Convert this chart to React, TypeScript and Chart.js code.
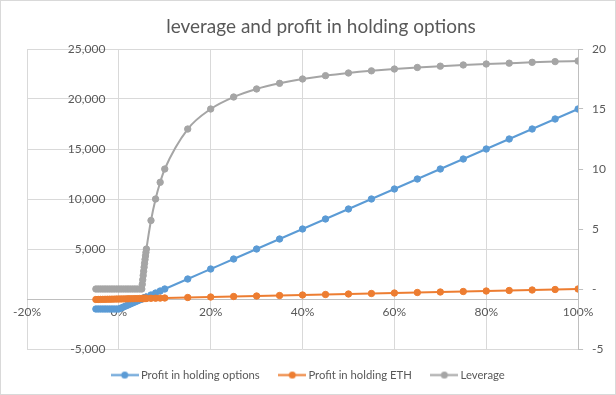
import React, { useEffect, useRef } from "react";
import { Chart, registerables } from "chart.js";

Chart.register(...registerables);

// x values in percent of ETH price change
const xPct = [
  -5, -4.5, -4, -3.5, -3, -2.5, -2, -1.5, -1, -0.5, 0, 0.5, 1, 1.5, 2, 2.5, 3, 3.5, 4, 4.5, 5,
  5.1, 5.2, 5.3, 5.4, 5.5, 5.6, 5.7, 5.8, 5.9, 6, 7, 8, 9, 10,
  15, 20, 25, 30, 35, 40, 45, 50, 55, 60, 65, 70, 75, 80, 85, 90, 95, 100,
];

const profitOptions = [
  -1000, -1000, -1000, -1000, -1000, -1000, -1000, -1000, -1000, -1000, -1000,
  -900, -800, -700, -600, -500, -400, -300, -200, -100, 0,
  20, 40, 60, 80, 100, 120, 140, 160, 180, 200, 400, 600, 800, 1000,
  2000, 3000, 4000, 5000, 6000, 7000, 8000, 9000, 10000, 11000, 12000, 13000, 14000, 15000, 16000, 17000, 18000, 19000,
];

const profitEth = [
  -50, -45, -40, -35, -30, -25, -20, -15, -10, -5, 0, 5, 10, 15, 20, 25, 30, 35, 40, 45, 50,
  51, 52, 53, 54, 55, 56, 57, 58, 59, 60, 70, 80, 90, 100,
  150, 200, 250, 300, 350, 400, 450, 500, 550, 600, 650, 700, 750, 800, 850, 900, 950, 1000,
];

const leverage = [
  0, 0, 0, 0, 0, 0, 0, 0, 0, 0, 0, 0, 0, 0, 0, 0, 0, 0, 0, 0, 0,
  0.39, 0.77, 1.13, 1.48, 1.82, 2.14, 2.46, 2.76, 3.05, 3.33, 5.71, 7.5, 8.89, 10,
  13.33, 15, 16, 16.67, 17.14, 17.5, 17.78, 18, 18.18, 18.33, 18.46, 18.57, 18.67, 18.75, 18.82, 18.89, 18.95, 19,
];

const seriesNames = ["Profit in holding options", "Profit in holding ETH", "Leverage"];
const seriesColors = ["#5B9BD5", "#ED7D31", "#A5A5A5"];
const chartTitle = "leverage and profit in holding options";

const FONT = "Lato, 'Open Sans', sans-serif";
const TEXT = "#595959";

const leftLabel = (v: number) => (v === 0 ? "-  " : v.toLocaleString("en-US"));

function legendMarker(color: string): HTMLCanvasElement {
  const c = document.createElement("canvas");
  c.width = 28;
  c.height = 9;
  const ctx = c.getContext("2d")!;
  ctx.strokeStyle = color;
  ctx.lineWidth = 2;
  ctx.beginPath();
  ctx.moveTo(0, 4.5);
  ctx.lineTo(28, 4.5);
  ctx.stroke();
  ctx.fillStyle = color;
  ctx.beginPath();
  ctx.arc(14, 4.5, 3.5, 0, Math.PI * 2);
  ctx.fill();
  return c;
}

const legendShift = {
  id: "legendShift",
  afterLayout(chart: any) {
    const lg = chart.legend;
    if (lg) {
      lg.top -= 1.6;
      lg.bottom -= 1.6;
      lg.left -= 11.5;
      lg.right -= 11.5;
    }
  },
};

// Left axis labels drawn next to the vertical axis that crosses at x = 0
const leftAxisLabels = {
  id: "leftAxisLabels",
  beforeDatasetsDraw(chart: any) {
    const ys = chart.scales.y;
    const xs = chart.scales.x;
    const ctx = chart.ctx;
    const ax = xs.getPixelForValue(0);
    ctx.save();
    ctx.font = `12px ${FONT}`;
    ctx.fillStyle = TEXT;
    ctx.textAlign = "right";
    ctx.textBaseline = "middle";
    for (const t of ys.ticks) {
      ctx.fillText(leftLabel(t.value), ax - 13.5, ys.getPixelForValue(t.value));
    }
    ctx.restore();
  },
};

export default function App() {
  const ref = useRef<HTMLCanvasElement | null>(null);

  useEffect(() => {
    if (!ref.current) return;
    const series = [profitOptions, profitEth, leverage];
    const datasets = series.map((vals, i) => ({
      label: seriesNames[i],
      data: xPct.map((x, j) => ({ x: x / 100, y: vals[j] })),
      borderColor: seriesColors[i],
      backgroundColor: seriesColors[i],
      pointBackgroundColor: seriesColors[i],
      pointBorderColor: seriesColors[i],
      pointRadius: 3.2,
      pointBorderWidth: 1,
      borderWidth: 2,
      tension: 0.3,
      cubicInterpolationMode: "monotone" as const,
      yAxisID: i === 2 ? "y1" : "y",
      order: 2 - i,
    }));
    const markers = seriesColors.map(legendMarker);

    const chart = new Chart(ref.current, {
      type: "line",
      data: { datasets },
      plugins: [legendShift, leftAxisLabels],
      options: {
        animation: false,
        responsive: false,
        maintainAspectRatio: false,
        layout: { padding: { left: 27, right: 1, top: 0, bottom: 2.7 } },
        scales: {
          x: {
            type: "linear",
            position: { y: 0 } as any,
            min: -0.2,
            max: 1,
            ticks: {
              stepSize: 0.2,
              color: TEXT,
              font: { family: FONT, size: 12 },
              padding: 6,
              maxRotation: 0,
              callback: (v: any) => Math.round(Number(v) * 100) + "%",
            },
            grid: { color: "#D9D9D9", drawTicks: false },
            border: { color: "#BFBFBF" },
          },
          y: {
            type: "linear",
            position: { x: 0 } as any,
            min: -5000,
            max: 25000,
            ticks: {
              stepSize: 5000,
              display: false,
            },
            grid: { color: "#D9D9D9", drawTicks: false },
            border: { color: "#D9D9D9" },
          },
          y1: {
            type: "linear",
            position: "right",
            min: -5,
            max: 20,
            ticks: {
              stepSize: 5,
              color: TEXT,
              font: { family: FONT, size: 12 },
              padding: 9,
              callback: (v: any) => (Number(v) === 0 ? "-" : String(v)),
            },
            grid: { drawOnChartArea: false, color: "#BFBFBF", tickLength: 5 },
            border: { color: "#BFBFBF" },
          },
        },
        plugins: {
          title: {
            display: true,
            text: chartTitle,
            color: TEXT,
            font: { family: FONT, size: 19, weight: "normal" },
            padding: { top: 15, bottom: 11.2 },
          },
          legend: {
            position: "bottom",
            labels: {
              color: TEXT,
              font: { family: FONT, size: 11.3 },
              usePointStyle: true,
              pointStyleWidth: 21,
              padding: 22,
              generateLabels: (ch: any) =>
                ch.data.datasets.map((ds: any, i: number) => ({
                  text: ds.label,
                  fillStyle: seriesColors[i],
                  strokeStyle: seriesColors[i],
                  fontColor: TEXT,
                  lineWidth: 0,
                  pointStyle: markers[i],
                  hidden: false,
                  datasetIndex: i,
                })),
            },
          },
          tooltip: { enabled: false },
        },
      },
    });
    return () => chart.destroy();
  }, []);

  return (
    <div style={{ position: "fixed", left: 0, top: 0, width: 616, height: 395, background: "#fff" }}>
      <canvas ref={ref} width={616} height={395} style={{ display: "block", width: 616, height: 395 }} />
      <div
        style={{
          position: "absolute",
          left: 0,
          top: 0,
          width: 616,
          height: 395,
          boxSizing: "border-box",
          border: "1px solid #D9D9D9",
          pointerEvents: "none",
        }}
      />
    </div>
  );
}
